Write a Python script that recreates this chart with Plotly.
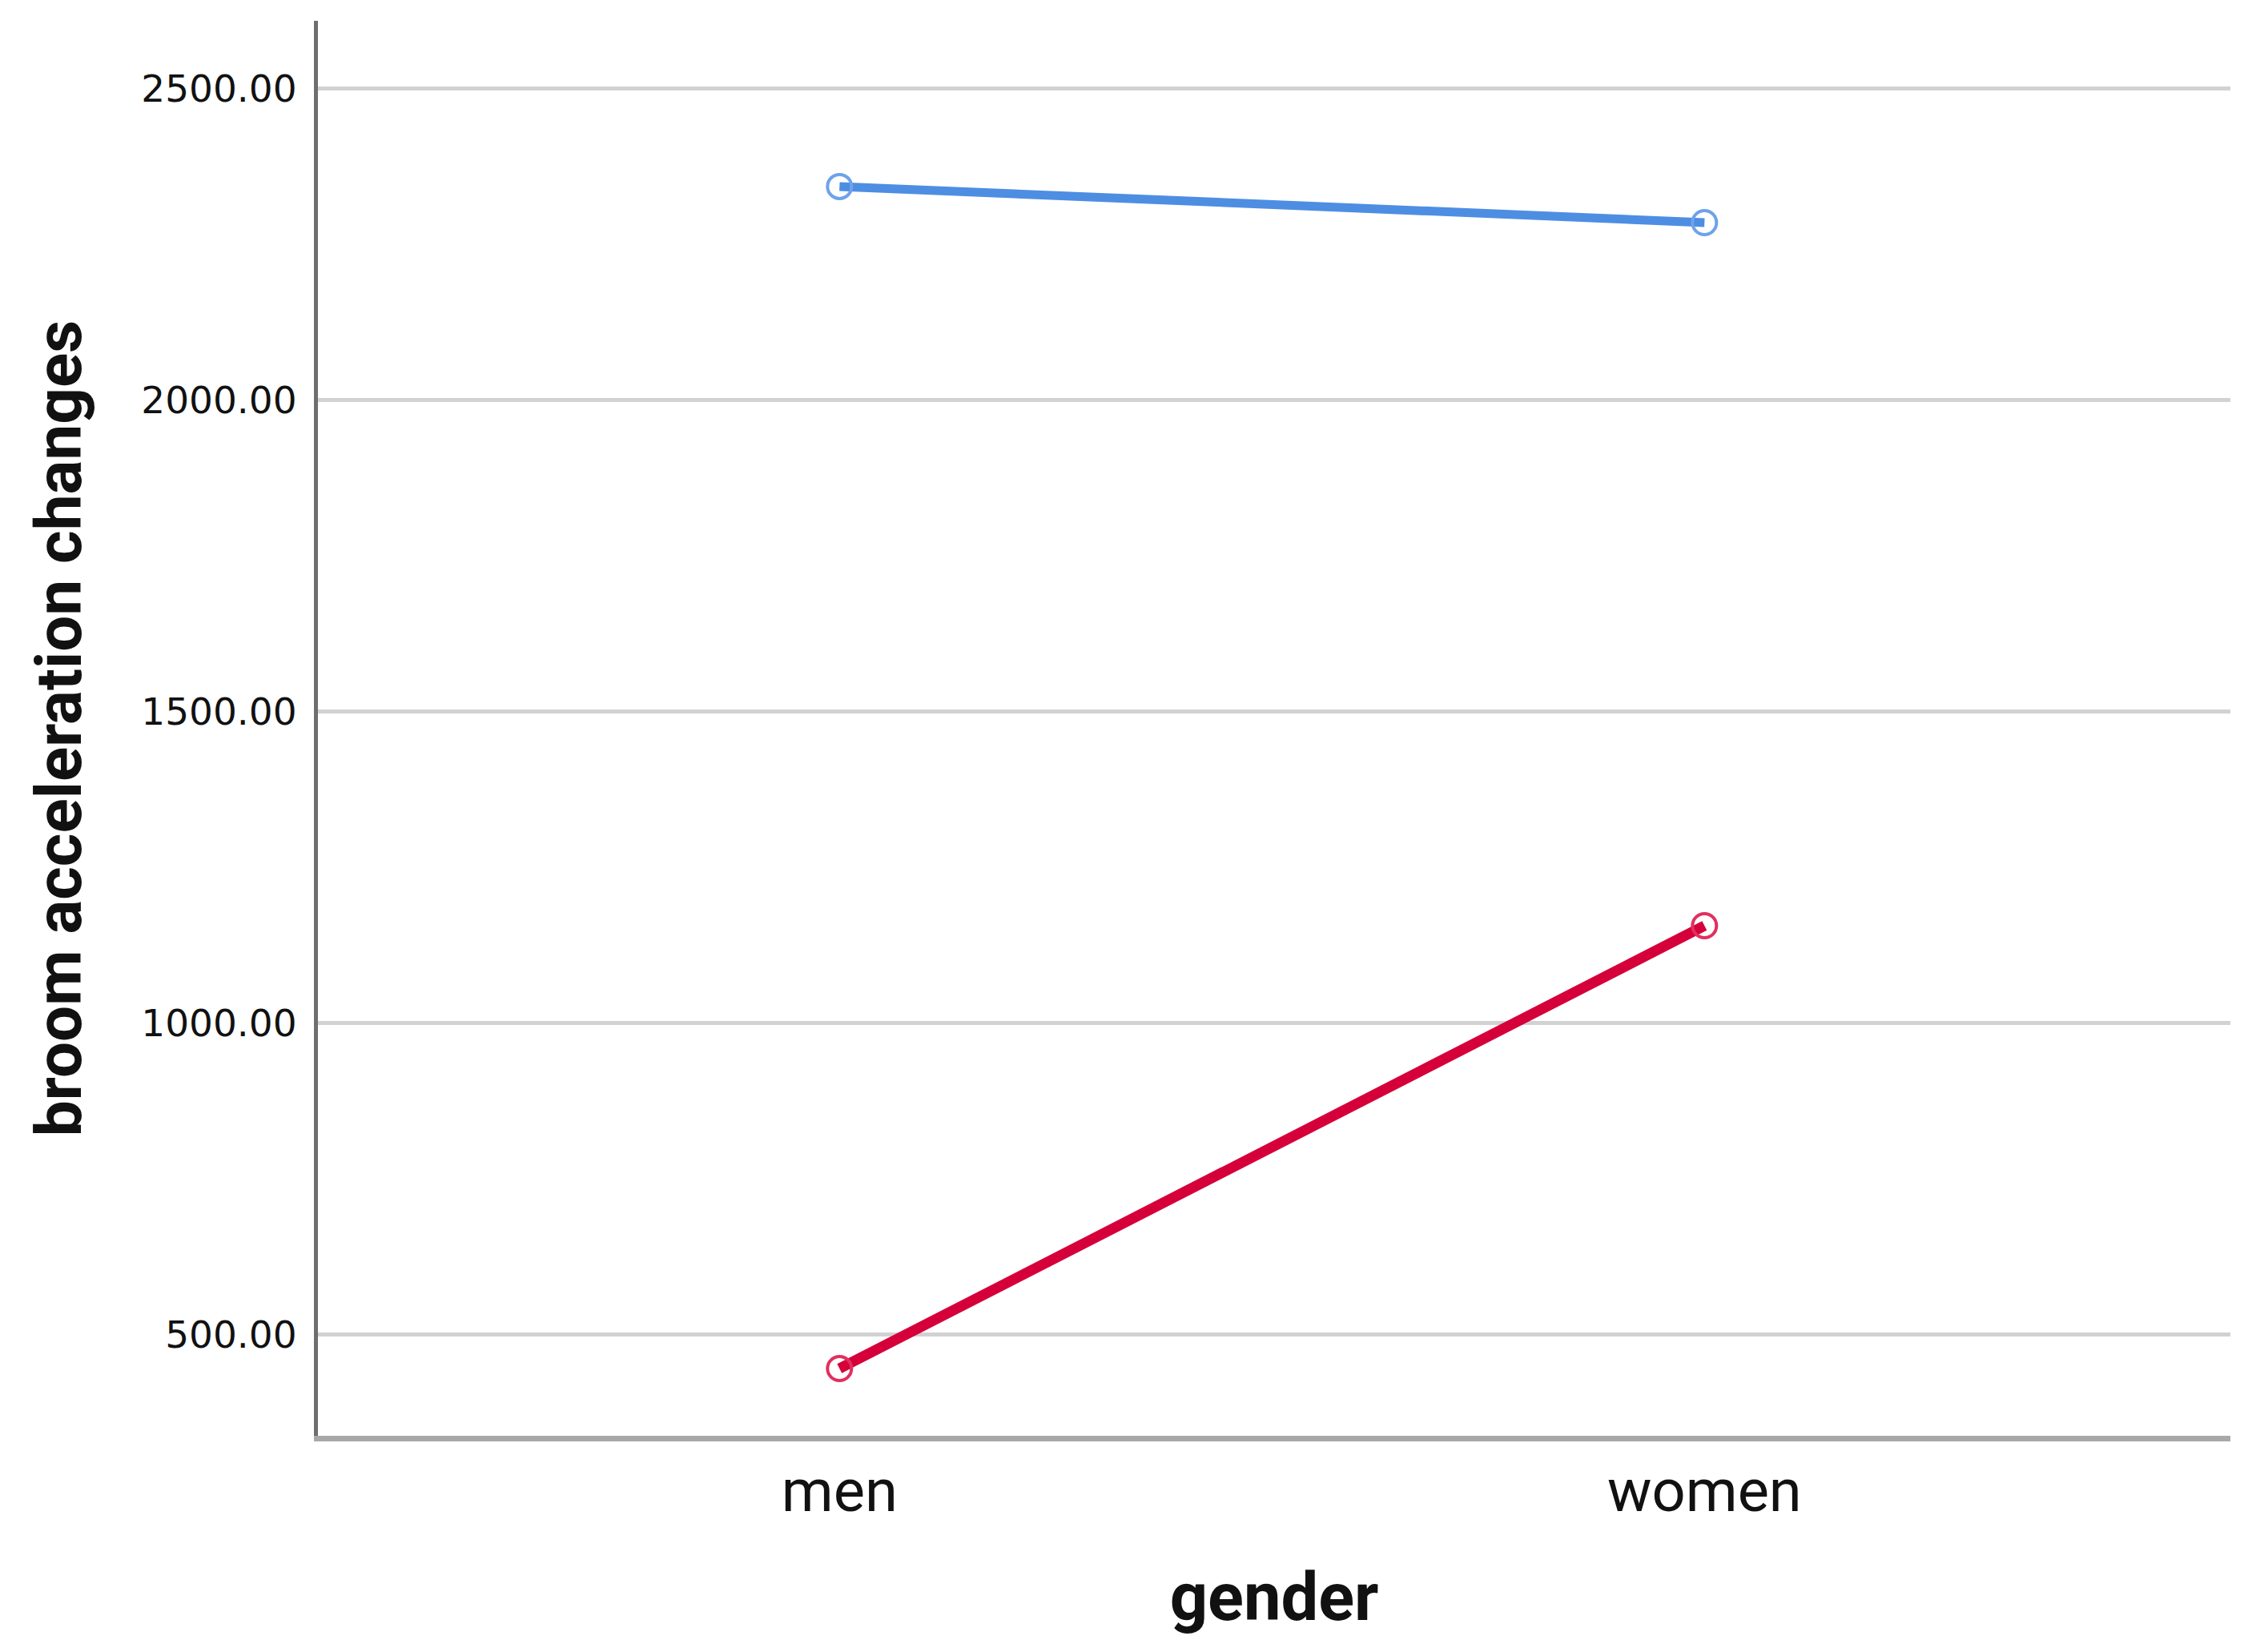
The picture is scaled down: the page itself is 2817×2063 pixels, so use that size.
import plotly.graph_objects as go

categories = ["men", "women"]
blue_values = [2343, 2285]
red_values = [445, 1156]
y_tick_values = [500, 1000, 1500, 2000, 2500]
y_tick_labels = ["500.00", "1000.00", "1500.00", "2000.00", "2500.00"]

W, H = 2817, 2063
fig = go.Figure()

fig.add_trace(go.Scatter(
    x=categories, y=blue_values, mode="lines+markers",
    line=dict(color="#4d8ee3", width=11),
    marker=dict(symbol="circle-open", size=30, color="#6ea2ea", line=dict(width=4, color="#6ea2ea")),
    showlegend=False, hoverinfo="skip",
))
fig.add_trace(go.Scatter(
    x=categories, y=red_values, mode="lines+markers",
    line=dict(color="#d5003a", width=13),
    marker=dict(symbol="circle-open", size=30, color="#e0305f", line=dict(width=4, color="#e0305f")),
    showlegend=False, hoverinfo="skip",
))

fig.update_layout(
    width=W, height=H,
    margin=dict(l=389, r=40, t=18, b=278, autoexpand=False),
    paper_bgcolor="white", plot_bgcolor="white",
    showlegend=False,
    xaxis=dict(
        type="category", categoryorder="array", categoryarray=categories,
        range=[-0.603, 1.608],
        showgrid=False, zeroline=False,
        showline=True, linecolor="#a8a8a8", linewidth=7,
        ticks="", ticklabelstandoff=-2,
        tickfont=dict(family="Roboto", size=74, color="#111111"),
        title=dict(text="<b>gender</b>", font=dict(family="Roboto", size=83, color="#111111"), standoff=64),
        automargin=False,
    ),
    yaxis=dict(
        range=[337, 2609],
        tickmode="array", tickvals=y_tick_values, ticktext=y_tick_labels,
        showgrid=True, gridcolor="#d2d2d2", gridwidth=5,
        zeroline=False,
        showline=True, linecolor="#6e6e6e", linewidth=5,
        ticks="", ticklabelstandoff=12,
        tickfont=dict(family="DejaVu Sans", size=47, color="#111111"),
        title=dict(text="<b>broom acceleration changes</b>", font=dict(family="Roboto", size=80, color="#111111"), standoff=50),
        automargin=False,
    ),
)

fig.write_html("out.html")
